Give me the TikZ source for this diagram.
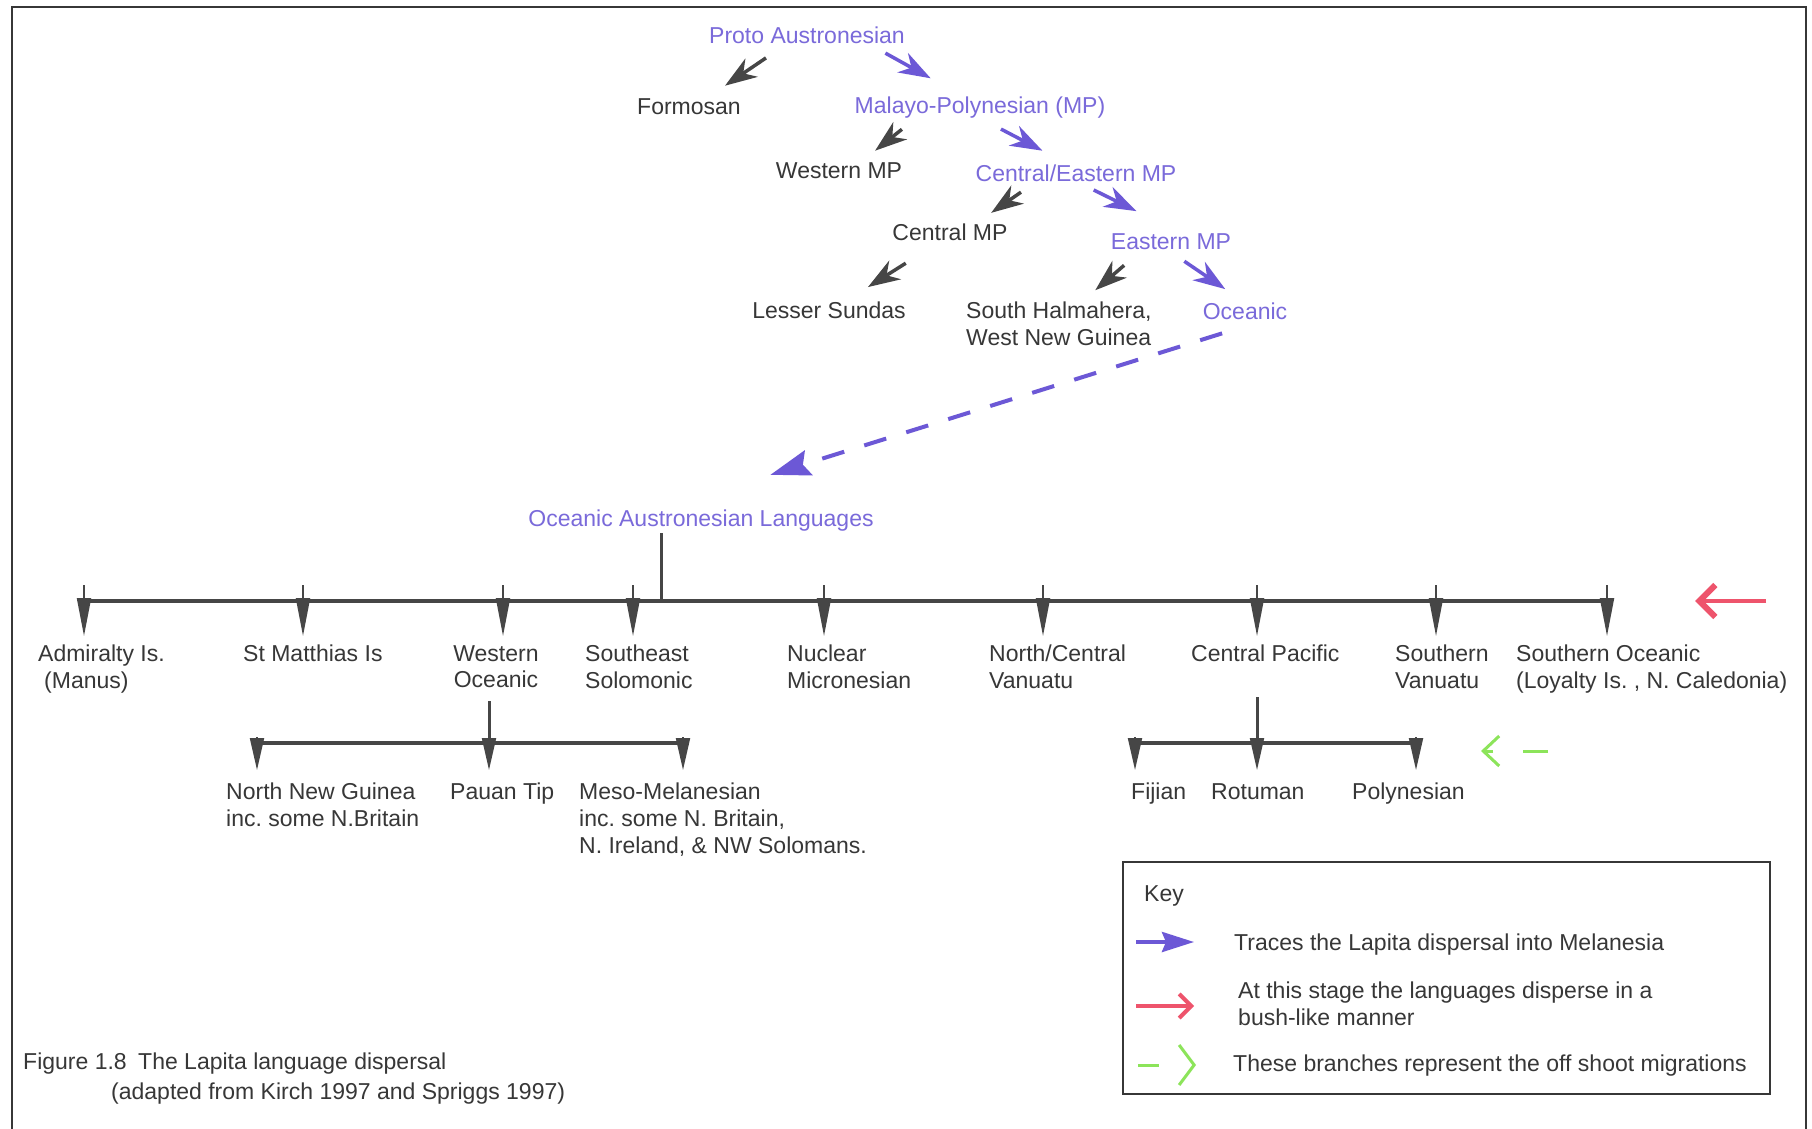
\documentclass[tikz,border=0pt]{standalone}
\usepackage{fontspec}
\setmainfont{Liberation Sans}
\frenchspacing
\usetikzlibrary{arrows.meta}
\definecolor{lapita}{RGB}{122,106,218}
\definecolor{lapitaarrow}{RGB}{108,88,214}
\definecolor{branch}{RGB}{70,70,70}
\definecolor{ink}{RGB}{55,55,55}
\definecolor{bush}{RGB}{238,84,108}
\definecolor{offshoot}{RGB}{140,228,90}
\tikzset{
  lang/.style={inner sep=2pt, text height=17pt, text depth=5pt, anchor=base, text=ink},
  lapitalang/.style={lang, text=lapita},
  langtext/.style={inner sep=0pt, anchor=north west, align=left, text=ink},
  darr/.style={draw=branch, line width=3.5pt, -{Stealth[length=32pt,width=22pt,inset=10pt]}},
  parr/.style={darr, draw=lapitaarrow},
  dashlink/.style={draw=lapitaarrow, line width=4pt, dash pattern=on 23pt off 21pt,
    -{Stealth[length=40pt,width=26pt,inset=6pt]}},
  bar/.style={draw=branch, line width=4.5pt},
  stemline/.style={draw=branch, line width=3pt},
  drop/.style={draw=branch, line width=2pt, -{Triangle[length=38pt,width=14pt]}},
  subdrop/.style={draw=branch, line width=2pt, -{Triangle[length=32pt,width=14pt]}},
  busharr/.style={draw=bush, line width=4pt, -{Straight Barb[length=16pt,width=32pt,line width=6pt]}},
  shootarr/.style={draw=offshoot, line width=3pt, -{Straight Barb[length=16pt,width=30pt]}}
}
\begin{document}
\begin{tikzpicture}[x=1pt,y=-1pt,font=\fontsize{23pt}{26.6pt}\selectfont]
\path[use as bounding box, fill=white] (0,0) rectangle (1812,1129);
\draw[draw=ink, line width=2.5pt] (12,1129) -- (12,7) -- (1806,7) -- (1806,1129);

\node[lapitalang] (proto) at (807,44) {Proto Austronesian};
\node[lang] (formosan) at (689,115) {Formosan};
\node[lapitalang] (mp) at (980,114) {Malayo-Polynesian (MP)};
\node[lang] (wmp) at (839,178) {Western MP};
\node[lapitalang] (cemp) at (1076,181) {Central/Eastern MP};
\node[lang] (cmp) at (950,240) {Central MP};
\node[lapitalang] (emp) at (1171,249) {Eastern MP};
\node[lang] (lsundas) at (829,318) {Lesser Sundas};
\node[langtext] (shalm) at (966,302) {South Halmahera,\\West New Guinea};
\node[lapitalang] (oceanic) at (1245,319) {Oceanic};
\node[lapitalang] (oal) at (701,526) {Oceanic Austronesian Languages};

\draw[darr, shorten <=12pt, shorten >=18pt] (proto.-157) -- (formosan.32);
\draw[parr, shorten <=4pt, shorten >=34pt] (proto.-10) -- (mp.146);
\draw[darr, shorten <=13pt, shorten >=13pt] (mp.-169) -- (wmp.27);
\draw[parr, shorten <=17pt, shorten >=24pt] (mp.-66) -- (cemp.133);
\draw[darr, shorten <=7pt, shorten >=14pt] (cemp.-165) -- (cmp.24);
\draw[parr, shorten <=4pt, shorten >=42pt] (cemp.-43) -- (emp.77);
\draw[darr, shorten <=30pt, shorten >=22pt] (cmp.-145) -- (lsundas.33);
\draw[darr, shorten <=14pt, shorten >=18pt] (emp.-160) -- (shalm.44);
\draw[parr, shorten <=9pt, shorten >=19pt] (emp.-66) -- (oceanic.107);
\draw[dashlink, shorten <=24pt, shorten >=107pt] (oceanic.south) -- (oal.158);

\coordinate (hub) at (661,601);
\draw[stemline] (oal.south -| hub) -- (hub);
\foreach \x [count=\i] in {84,303,503,633,824,1043,1257,1436,1607}
  \coordinate (t\i) at (\x,601);
\draw[bar] (t1) -- (t9);
\foreach \x in {84,303,503,633,824,1043,1257,1436,1607}
  \draw[drop] (\x,585) -- (\x,636);

\node[langtext] (adm) at (38,645) {Admiralty Is.\\\hspace*{6pt}(Manus)};
\node[langtext] (stm) at (243,645) {St Matthias Is};
\node[langtext, anchor=north, align=center] (woc) at (496,645) {Western\\Oceanic};
\node[langtext] (seso) at (585,645) {Southeast\\Solomonic};
\node[langtext] (nucm) at (787,645) {Nuclear\\Micronesian};
\node[langtext] (ncv) at (989,645) {North/Central\\Vanuatu};
\node[langtext] (cpac) at (1191,645) {Central Pacific};
\node[langtext] (sv) at (1395,645) {Southern\\Vanuatu};
\node[langtext] (so) at (1516,645) {Southern Oceanic\\(Loyalty Is. , N. Caledonia)};

\coordinate (wsplit) at (489,743);
\coordinate (csplit) at (1257,743);
\draw[stemline, shorten <=13pt] (woc.south -| wsplit) -- (wsplit);
\draw[stemline, shorten <=35pt] (cpac.south -| csplit) -- (csplit);
\draw[bar] (257,743) -- (683,743);
\draw[bar] (1135,743) -- (1416,743);
\foreach \x in {257,489,683,1135,1257,1416}
  \draw[subdrop] (\x,737) -- (\x,770);

\node[langtext] (nng) at (226,783) {North New Guinea\\inc. some N.Britain};
\node[langtext] (pauan) at (450,783) {Pauan Tip};
\node[langtext] (meso) at (579,783) {Meso-Melanesian\\inc. some N. Britain,\\N. Ireland, \& NW Solomans.};
\node[langtext] (fij) at (1131,783) {Fijian};
\node[langtext] (rot) at (1211,783) {Rotuman};
\node[langtext] (poly) at (1352,783) {Polynesian};

\draw[busharr] (1766,601) -- (1695,601);
\draw[shootarr, dash pattern=on 25pt off 30pt] (1548,751) -- (1481,751);

\draw[draw=ink, line width=1.5pt] (1123,862) rectangle (1770,1094);
\node[langtext, anchor=base west] (keytitle) at (1144,901) {Key};
\draw[draw=lapitaarrow, line width=4pt, -{Stealth[length=32pt,width=20pt,inset=4pt]}] (1136,942) -- (1194,942);
\node[langtext, anchor=base west] (keylapita) at (1234,950) {Traces the Lapita dispersal into Melanesia};
\draw[busharr, -{Straight Barb[length=12pt,width=24pt]}] (1136,1006) -- (1194,1006);
\node[langtext] (keybush) at (1238,982) {At this stage the languages disperse in a\\bush-like manner};
\draw[shootarr, dash pattern=on 21pt off 40pt, -{Straight Barb[length=15pt,width=40pt]}] (1138,1065) -- (1196,1065);
\node[langtext, anchor=base west] (keyshoot) at (1233,1071) {These branches represent the off shoot migrations};

\node[langtext] (caption) at (23,1053)
  {Figure 1.8\enspace The Lapita language dispersal\\[3.4pt]\hspace*{88pt}(adapted from Kirch 1997 and Spriggs 1997)};
\end{tikzpicture}
\end{document}
